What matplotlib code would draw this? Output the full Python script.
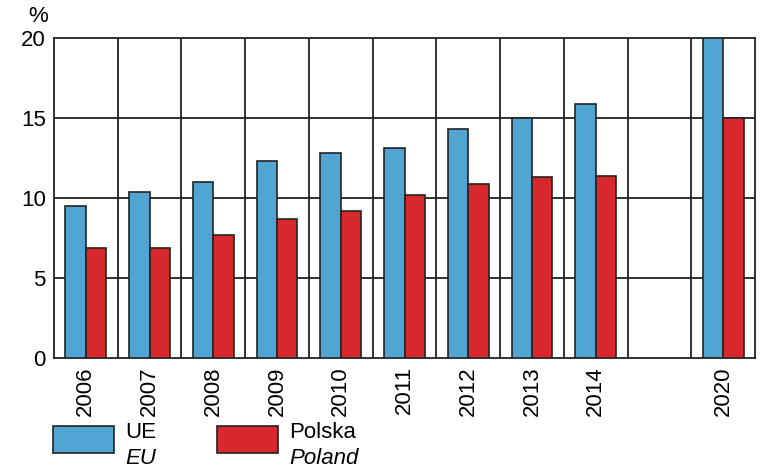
import numpy as np
import matplotlib
matplotlib.use('Agg')
import matplotlib.pyplot as plt
from matplotlib.patches import Rectangle

plt.rcParams['font.family'] = ['Liberation Sans Narrow', 'Liberation Sans', 'DejaVu Sans']

# Data
years = ['2006', '2007', '2008', '2009', '2010', '2011', '2012', '2013', '2014', '2020']
slots = [0, 1, 2, 3, 4, 5, 6, 7, 8, 10]
eu = [9.5, 10.4, 11.0, 12.3, 12.8, 13.1, 14.3, 15.0, 15.9, 20.0]
poland = [6.9, 6.9, 7.7, 8.7, 9.2, 10.2, 10.9, 11.3, 11.4, 15.0]

blue = '#50A5D2'
red = '#D7292C'
dark = '#222222'

fig = plt.figure(figsize=(7.71, 4.76), dpi=100)
ax = fig.add_axes([54 / 771, 118 / 476, 701 / 771, 320 / 476])

x = np.array(slots)
w = 0.32
ax.bar(x - w / 2, eu, w, color=blue, edgecolor=dark, linewidth=1.2, zorder=3)
ax.bar(x + w / 2, poland, w, color=red, edgecolor=dark, linewidth=1.2, zorder=3)

ax.set_xlim(-0.5, 10.5)
ax.set_ylim(0, 20)

# grid: horizontal at y ticks, vertical between slots
for yv in [5, 10, 15]:
    ax.axhline(yv, color=dark, lw=1.3, zorder=1)
for xv in np.arange(0.5, 10, 1):
    ax.axvline(xv, color=dark, lw=1.3, zorder=1)

ax.set_yticks([0, 5, 10, 15, 20])
ax.set_yticklabels(['0', '5', '10', '15', '20'], fontsize=16)
ax.set_xticks(x)
ax.set_xticklabels(years, rotation=90, fontsize=16)
ax.tick_params(length=0, pad=6)
for s in ax.spines.values():
    s.set_color(dark)
    s.set_linewidth(1.3)

fig.text(38 / 771, 1 - 17 / 476, '%', fontsize=16, ha='center', va='center')

# Legend
fig.add_artist(Rectangle((53 / 771, 1 - 453 / 476), 61 / 771, 27 / 476,
                         transform=fig.transFigure, facecolor=blue, edgecolor=dark, lw=1.2))
fig.add_artist(Rectangle((217 / 771, 1 - 453 / 476), 61 / 771, 27 / 476,
                         transform=fig.transFigure, facecolor=red, edgecolor=dark, lw=1.2))
fig.text(125 / 771, 1 - 433 / 476, 'UE', fontsize=16, va='center')
fig.text(125 / 771, 1 - 458 / 476, 'EU', fontsize=16, va='center', style='italic')
fig.text(289 / 771, 1 - 433 / 476, 'Polska', fontsize=16, va='center')
fig.text(289 / 771, 1 - 458 / 476, 'Poland', fontsize=16, va='center', style='italic')

fig.savefig('out.png', dpi=100)
